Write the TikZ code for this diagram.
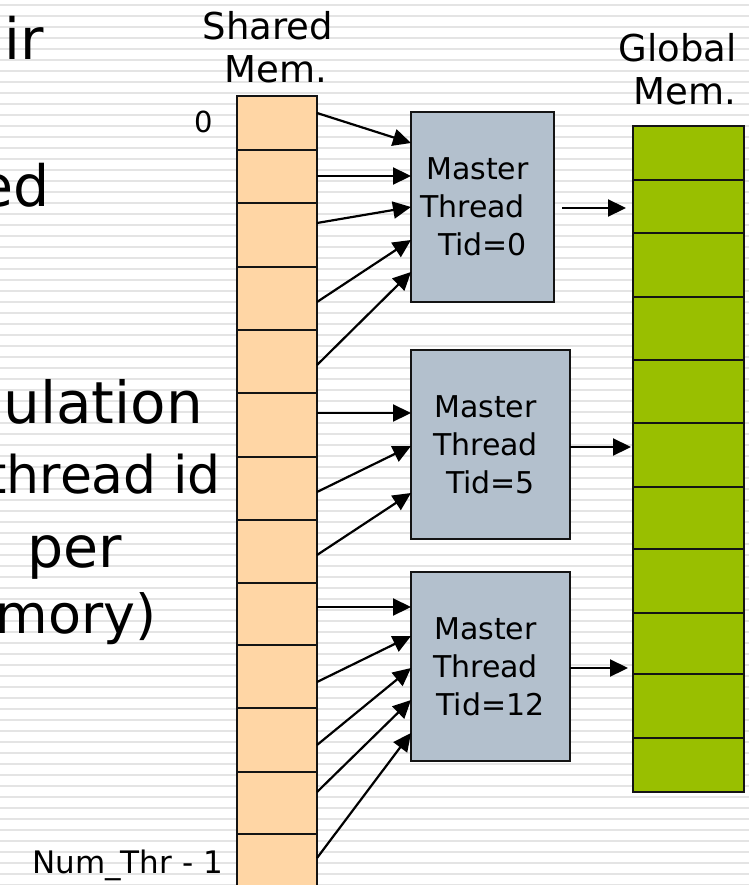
\documentclass[tikz,border=0pt]{standalone}
\usepackage{fontspec}
\setmainfont{DejaVu Sans}
\usetikzlibrary{arrows.meta}
\definecolor{stripe}{RGB}{228,228,228}
\definecolor{peach}{RGB}{255,214,165}
\definecolor{slate}{RGB}{179,192,205}
\definecolor{lime}{RGB}{153,191,0}
\definecolor{edge}{RGB}{20,20,20}
\newcommand{\fsz}[2]{\fontsize{#1}{#2}\selectfont}
\begin{document}
\begin{tikzpicture}[x=1pt,y=-1pt,
  scell/.style={draw=edge, fill=peach, line width=2.1pt, minimum width=80pt, inner sep=0pt, outer sep=0pt},
  gcell/.style={draw=edge, fill=lime, line width=2.5pt, minimum width=111pt, inner sep=0pt, outer sep=0pt},
  mbox/.style={draw=edge, fill=slate, line width=2.3pt, inner sep=0pt, outer sep=0pt, align=center, font=\fsz{30}{38}},
  arr/.style={draw=black, line width=2.2pt, -{Triangle[length=18pt,width=17pt]}},
  head/.style={align=center, font=\fsz{37}{43}, inner sep=0pt, anchor=base},
  idx/.style={anchor=base east, inner sep=0pt},
  bgtext/.style={anchor=base east, inner sep=0pt}]

\useasboundingbox (0,0) rectangle (749,885);
\clip (0,0) rectangle (749,885);
\fill[white] (0,0) rectangle (749,885);
\foreach \k in {0,...,80} \draw[stripe, line width=2.2pt] (0,{5+11*\k}) -- (749,{5+11*\k});

% cut-off slide text on the left
\node[bgtext, font=\fsz{57}{60}] (t1) at (44,60) {ir};
\node[bgtext, font=\fsz{57}{60}] (t2) at (50,207) {ed};
\node[bgtext, font=\fsz{58}{60}] (t3) at (203,423) {ulation};
\node[bgtext, font=\fsz{52}{60}] (t4) at (221,493) {thread id};
\node[bgtext, font=\fsz{57}{60}] (t5) at (122,567) {per};
\node[bgtext, font=\fsz{54}{60}] (t6) at (157,633) {mory)};

% shared memory column
\foreach \t/\b [count=\i from 0] in {96/150,150/203,203/267,267/330,330/393,393/457,457/520,520/583,583/645,645/708,708/772,772/834,834/897}
  \node[scell, minimum height=\b-\t] (s\i) at (277,{(\t+\b)/2}) {};

% global memory column
\foreach \t/\b [count=\i from 0] in {126/180,180/233,233/297,297/360,360/423,423/487,487/549,549/613,613/674,674/738,738/792}
  \node[gcell, minimum height=\b-\t] (g\i) at (688.5,{(\t+\b)/2}) {};

% headings and indices
\node[head] (hs) at (276,83) {Shared\rule{16pt}{0pt}\\Mem.};
\node[head] (hg) at (685,105) {Global\rule{15pt}{0pt}\\Mem.};
\node[idx, font=\fsz{29}{34}] (i0) at (213,133) {0};
\node[idx, font=\fsz{31}{36}] (in) at (223,873) {Num\_Thr - 1};

% master threads
\node[mbox, minimum width=143pt, minimum height=190pt] (m1) at (482.5,207) {Master\rule{10pt}{0pt}\\Thread\rule{20pt}{0pt}\\Tid=0};
\node[mbox, minimum width=159pt, minimum height=189pt] (m2) at (490.5,444.5) {Master\rule{10pt}{0pt}\\Thread\rule{10pt}{0pt}\\Tid=5};
\node[mbox, minimum width=159pt, minimum height=189pt] (m3) at (490.5,666.5) {Master\rule{10pt}{0pt}\\Thread\rule{10pt}{0pt}\\Tid=12};

% shared -> master
\draw[arr] (s0.east |- 0,113) -- (m1.west |- 0,143);
\draw[arr] (s1.east |- 0,176) -- (m1.west |- 0,176);
\draw[arr] (s2.east |- 0,223) -- (m1.west |- 0,207);
\draw[arr] (s3.east |- 0,302) -- (m1.west |- 0,240);
\draw[arr] (s4.east |- 0,365) -- (m1.west |- 0,272);

\draw[arr] (s5.east |- 0,413) -- (m2.west |- 0,413);
\draw[arr] (s6.east |- 0,492) -- (m2.west |- 0,446);
\draw[arr] (s7.east |- 0,555) -- (m2.west |- 0,493);

\draw[arr] (s8.east |- 0,607) -- (m3.west |- 0,607);
\draw[arr] (s9.east |- 0,682) -- (m3.west |- 0,636);
\draw[arr] (s10.east |- 0,745) -- (m3.west |- 0,668);
\draw[arr] (s11.east |- 0,792) -- (m3.west |- 0,700);
\draw[arr] (s12.east |- 0,858) -- (m3.west |- 0,733);

% master -> global
\draw[arr, shorten <=8pt, shorten >=7pt] (m1.east |- 0,208) -- (g1.west |- 0,208);
\draw[arr, shorten >=2pt] (m2.east |- 0,447) -- (g5.west |- 0,447);
\draw[arr, shorten >=5pt] (m3.east |- 0,668) -- (g8.west |- 0,668);
\end{tikzpicture}
\end{document}
